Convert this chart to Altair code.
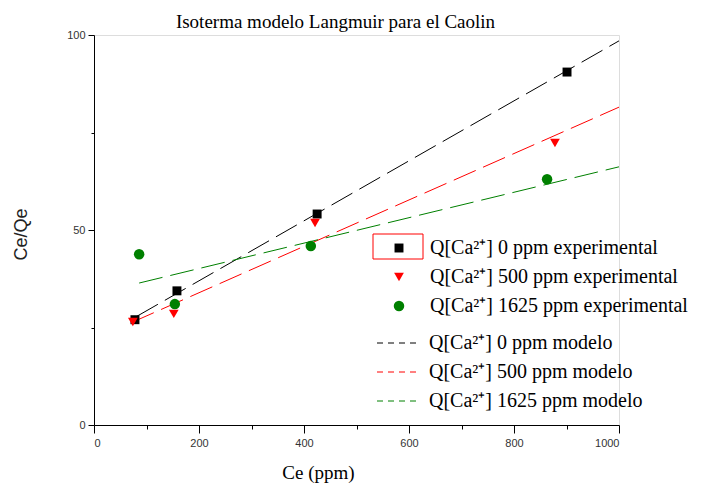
import altair as alt
import pandas as pd

# experimental points
exp_labels = ["Q[Ca²⁺] 0 ppm experimental", "Q[Ca²⁺] 500 ppm experimental", "Q[Ca²⁺] 1625 ppm experimental"]
x_0 = [78, 158, 425, 901]
y_0 = [27.0, 34.4, 54.1, 90.5]
x_500 = [74, 152, 421, 878]
y_500 = [26.4, 28.5, 51.8, 72.3]
x_1625 = [86, 154, 413, 863]
y_1625 = [43.8, 31.0, 45.9, 63.0]

# model lines (end points)
mod_labels = ["Q[Ca²⁺] 0 ppm modelo", "Q[Ca²⁺] 500 ppm modelo", "Q[Ca²⁺] 1625 ppm modelo"]
mx_0 = [82, 1000]
my_0 = [27.9, 98.5]
mx_500 = [72, 1000]
my_500 = [26.3, 81.5]
mx_1625 = [86, 1000]
my_1625 = [36.4, 66.2]

colors = ["#000000", "#ff0000", "#008000"]
shapes = ["square", "triangle-down", "circle"]
sizes = [80, 110, 75]

rows = []
for lab, xs, ys in zip(exp_labels, [x_0, x_500, x_1625], [y_0, y_500, y_1625]):
    for a, b in zip(xs, ys):
        rows.append({"x": a, "y": b, "exp": lab})
pts = pd.DataFrame(rows)

rows = []
for lab, xs, ys in zip(mod_labels, [mx_0, mx_500, mx_1625], [my_0, my_500, my_1625]):
    for a, b in zip(xs, ys):
        rows.append({"x": a, "y": b, "mod": lab})
lines = pd.DataFrame(rows)

serif = "Liberation Serif"
sans = "Liberation Sans"

xaxis = alt.Axis(
    values=[0, 100, 200, 300, 400, 500, 600, 700, 800, 900, 1000],
    labelExpr="datum.value % 200 === 0 ? toString(datum.value) : ''",
    tickSize={"condition": {"test": "datum.value % 200 === 0", "value": 8}, "value": 4},
    grid=False, domainColor="#000", tickColor="#000", labelColor="#333",
    labelFont=sans, labelFontSize=11, labelPadding=4,
    title="Ce (ppm)", titleFont=serif, titleFontSize=19, titleFontWeight="normal",
    titleColor="#000", titleX=224, titleY=38,
)
yaxis = alt.Axis(
    values=[0, 25, 50, 75, 100],
    labelExpr="datum.value % 50 === 0 ? toString(datum.value) : ''",
    tickSize={"condition": {"test": "datum.value % 50 === 0", "value": 6}, "value": 3},
    grid=False, domainColor="#000", tickColor="#000", labelColor="#333",
    labelFont=sans, labelFontSize=11, labelPadding=3,
    title="Ce/Qe", titleFont=sans, titleFontSize=18, titleFontWeight="normal",
    titleColor="#222", titleX=-64, titleY=199,
)

xs = alt.Scale(domain=[0, 1000], nice=False, zero=False)
ys = alt.Scale(domain=[0, 100], nice=False, zero=False)

line_legend = alt.Legend(
    orient="none", legendX=295, legendY=298, title=None,
    labelFont=serif, labelFontSize=20, labelColor="#000", labelLimit=400,
    symbolType="M-3,0H3", symbolSize=215, symbolStrokeWidth=1, symbolDash=[6, 5],
    symbolStrokeColor=alt.ExprRef("['#000000', '#ff0000', '#008000'][datum.index]"),
    labelOffset=20, rowPadding=9, padding=0,
)

line_layer = alt.Chart(lines).mark_line(strokeWidth=1, strokeDash=[24, 8]).encode(
    x=alt.X("x:Q", scale=xs, axis=xaxis),
    y=alt.Y("y:Q", scale=ys, axis=yaxis),
    color=alt.Color("mod:N", scale=alt.Scale(domain=mod_labels, range=colors), legend=line_legend),
)

pt_legend = alt.Legend(
    orient="none", legendX=295, legendY=203, title=None,
    labelFont=serif, labelFontSize=20, labelColor="#000", labelLimit=400,
    symbolSize=70, symbolOpacity=1, labelOffset=21, rowPadding=9, padding=0,
)

point_layer = alt.Chart(pts).mark_point(filled=True, opacity=1).encode(
    x=alt.X("x:Q", scale=xs, axis=xaxis),
    y=alt.Y("y:Q", scale=ys, axis=yaxis),
    color=alt.Color("exp:N", scale=alt.Scale(domain=exp_labels, range=colors), legend=pt_legend),
    shape=alt.Shape("exp:N", scale=alt.Scale(domain=exp_labels, range=shapes), legend=pt_legend),
    size=alt.Size("exp:N", scale=alt.Scale(domain=exp_labels, range=sizes), legend=None),
)

# red selection frame drawn around the first legend symbol in the original
frame = alt.Chart(pts).mark_rect(fill="transparent", stroke="#ff0000", strokeWidth=1).encode(
    x=alt.value(279), x2=alt.value(329), y=alt.value(199), y2=alt.value(224)
).transform_filter("datum.x === 78")

chart = alt.layer(line_layer, point_layer, frame).resolve_scale(
    color="independent", shape="independent", size="independent"
).properties(
    width=525, height=390,
    autosize=alt.AutoSizeParams(type="none"),
    padding={"left": 94, "top": 35, "right": 86, "bottom": 60},
    title=alt.TitleParams("Isoterma modelo Langmuir para el Caolin", font=serif, fontSize=19,
                          fontWeight="normal", color="#000", anchor="middle", dx=-21, offset=-3),
).configure_view(stroke=None).configure(background="white")

chart.save("out.html", embed_options={"renderer": "svg", "actions": False})
